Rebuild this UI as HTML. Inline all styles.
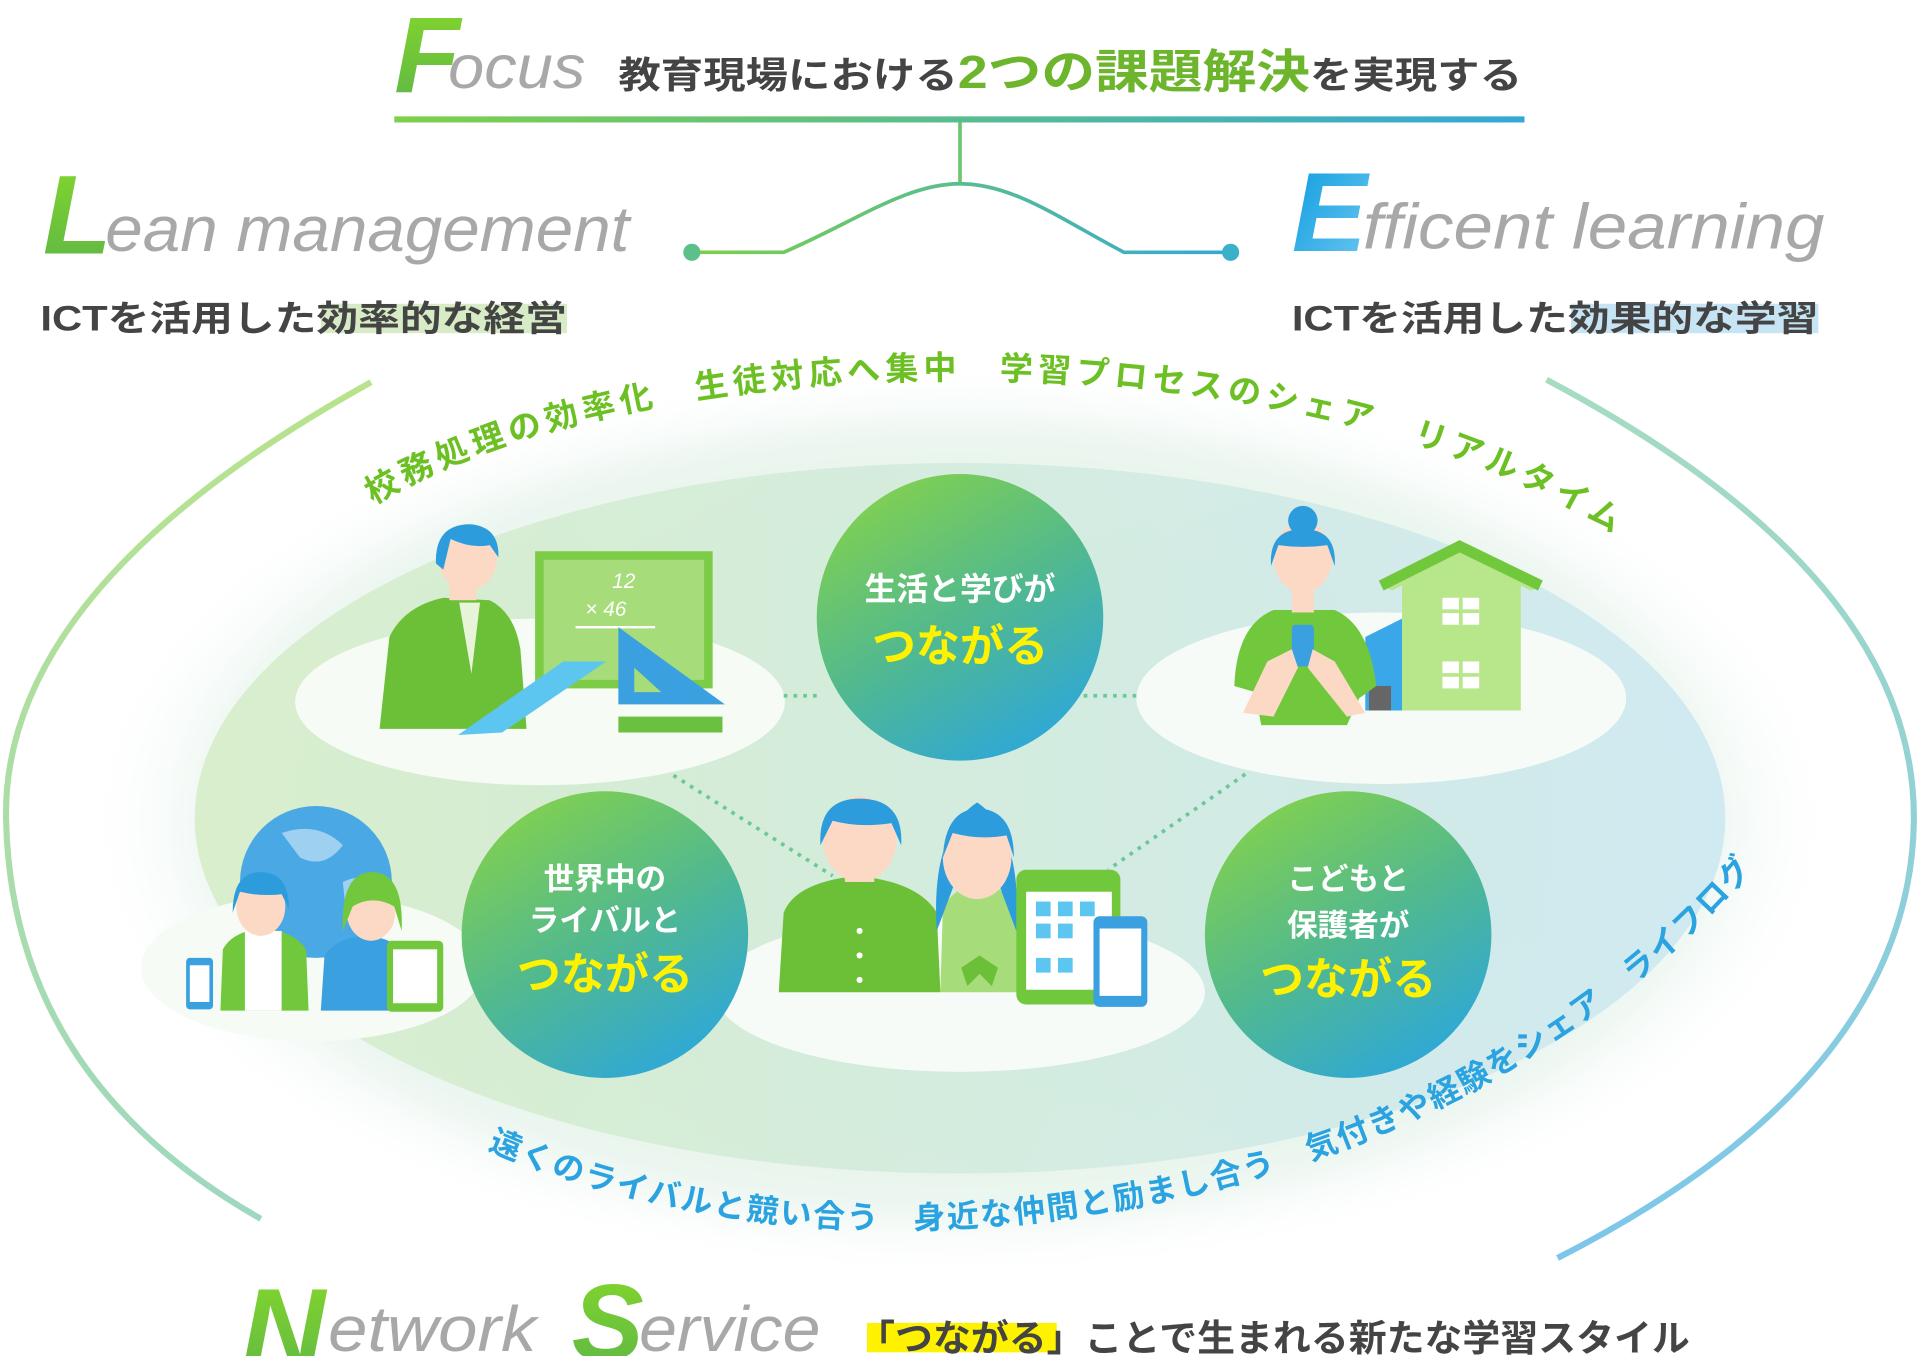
<!DOCTYPE html>
<html><head><meta charset="utf-8"><style>
html,body{margin:0;padding:0;background:#fff;}
svg{display:block;}
text{font-family:"Liberation Sans","Noto Sans CJK JP",sans-serif;}
</style></head><body>
<svg width="1920" height="1356" viewBox="0 0 1568 1107" preserveAspectRatio="none" xmlns="http://www.w3.org/2000/svg">
<defs>
<linearGradient id="lg" x1="0" x2="1"><stop offset="0" stop-color="#7ed04a"/><stop offset="1" stop-color="#34a8d8"/></linearGradient>
<linearGradient id="cg" x1="0.2" y1="0" x2="0.8" y2="1"><stop offset="0" stop-color="#84d24c"/><stop offset="0.5" stop-color="#52b98e"/><stop offset="1" stop-color="#2ba6df"/></linearGradient>
<linearGradient id="gL" x1="0" y1="0" x2="0" y2="1"><stop offset="0" stop-color="#86d82a"/><stop offset="1" stop-color="#5cb548"/></linearGradient>
<linearGradient id="gE" x1="0" y1="0" x2="1" y2="1"><stop offset="0" stop-color="#0a9be0"/><stop offset="1" stop-color="#6fc8f0"/></linearGradient>
<radialGradient id="outer" cx="0.5" cy="0.5" r="0.5"><stop offset="0.6" stop-color="#dcefe0"/><stop offset="0.85" stop-color="#eef7f2"/><stop offset="1" stop-color="#fff" stop-opacity="0"/></radialGradient>
<linearGradient id="inner" x1="0" x2="1"><stop offset="0" stop-color="#d6edc8"/><stop offset="0.6" stop-color="#d2ebe2"/><stop offset="1" stop-color="#cde8f2"/></linearGradient>
<linearGradient id="arcL" x1="0" y1="0" x2="0" y2="1"><stop offset="0" stop-color="#b8e38c"/><stop offset="1" stop-color="#9ed8c0"/></linearGradient>
<linearGradient id="arcR" x1="0" y1="0" x2="0" y2="1"><stop offset="0" stop-color="#a6dcc0"/><stop offset="1" stop-color="#7cc6ea"/></linearGradient>
<path id="topArc" d="M305 412 C540 270 1090 270 1335 448" fill="none"/>
<path id="botArc" d="M398 938 Q560 1008 760 1003 Q1000 995 1200 892 Q1365 800 1448 688" fill="none"/>
</defs>

<!-- header -->
<text x="322" y="75" font-size="88" font-style="italic" fill="url(#gL)" font-weight="bold">F</text>
<text x="366" y="72" font-size="50" font-style="italic" fill="#a8a8a8" textLength="112" lengthAdjust="spacingAndGlyphs">ocus</text>
<text x="505" y="72" font-size="30" fill="#444" font-weight="bold" textLength="738" lengthAdjust="spacingAndGlyphs">教育現場における<tspan fill="#6cb52c" font-size="38">2つの課題解決</tspan>を実現する</text>
<rect x="322" y="95" width="923" height="5" fill="url(#lg)"/>
<line x1="784" y1="100" x2="784" y2="150" stroke="#6cc66a" stroke-width="3"/>
<path d="M565 206 H640 C700 180 740 150 784 150 C828 150 868 180 918 206 H1005" fill="none" stroke="url(#lg)" stroke-width="3"/>
<circle cx="565" cy="206" r="7" fill="#5cc08a"/><circle cx="1005" cy="206" r="7" fill="#3cb0c8"/>

<text x="35" y="207" font-size="92" font-style="italic" font-weight="bold" fill="url(#gL)">L</text>
<text x="86" y="205" font-size="52" font-style="italic" fill="#a8a8a8" textLength="428" lengthAdjust="spacingAndGlyphs">ean management</text>
<rect x="262" y="248" width="201" height="24" fill="#d6ebc6"/>
<text x="33" y="270" font-size="29" fill="#444" font-weight="bold" textLength="430" lengthAdjust="spacingAndGlyphs">ICTを活用した効率的な経営</text>

<text x="1055" y="205" font-size="92" font-style="italic" font-weight="bold" fill="url(#gE)">E</text>
<text x="1113" y="203" font-size="52" font-style="italic" fill="#a8a8a8" textLength="377" lengthAdjust="spacingAndGlyphs">fficent learning</text>
<rect x="1283" y="248" width="202" height="24" fill="#c6e4f4"/>
<text x="1055" y="270" font-size="29" fill="#444" font-weight="bold" textLength="430" lengthAdjust="spacingAndGlyphs">ICTを活用した効果的な学習</text>

<!-- ellipses -->
<ellipse cx="784" cy="670" rx="720" ry="375" fill="url(#outer)"/>
<ellipse cx="784" cy="668" rx="625" ry="290" fill="url(#inner)" opacity="0.9"/>
<path d="M303 312 Q0 480 5 670 Q10 880 213 995" fill="none" stroke="url(#arcL)" stroke-width="5"/>
<path d="M1263 310 Q1565 470 1563 670 Q1560 880 1272 1027" fill="none" stroke="url(#arcR)" stroke-width="5"/>

<ellipse cx="441" cy="573" rx="200" ry="68" fill="#f7fbf6"/>
<ellipse cx="1128" cy="570" rx="200" ry="70" fill="#f7fbf8"/>
<ellipse cx="255" cy="790" rx="140" ry="60" fill="#f7fbf6"/>
<ellipse cx="784" cy="810" rx="200" ry="65" fill="#f7fbf8"/>

<!-- dotted connectors -->
<g stroke="#6cc89a" stroke-width="3" stroke-dasharray="3 5" fill="none">
<line x1="640" y1="568" x2="668" y2="568"/><line x1="885" y1="568" x2="928" y2="568"/>
<line x1="550" y1="633" x2="680" y2="715"/><line x1="1017" y1="632" x2="905" y2="710"/>
</g>

<!-- teacher -->
<rect x="437" y="450" width="145" height="112" fill="#7ccc48"/><rect x="444" y="457" width="131" height="98" fill="#a6dd7a"/>
<text x="500" y="480" font-size="17" font-style="italic" fill="#fff">12</text><text x="478" y="503" font-size="17" font-style="italic" fill="#fff">× 46</text>
<line x1="470" y1="512" x2="535" y2="512" stroke="#fff" stroke-width="2"/>
<path d="M505 512 L505 575 L592 575 Z" fill="#3aa0e0"/><path d="M518 545 L518 565 L540 565 Z" fill="#a6dd7a"/>
<rect x="505" y="585" width="85" height="13" fill="#6cc040"/>
<path d="M310 595 L318 520 Q330 495 362 488 L400 490 Q420 500 425 530 L430 595 Z" fill="#6cc038"/>
<path d="M375 492 L385 550 L392 492 Z" fill="#e8f4d8"/>
<rect x="367" y="460" width="22" height="30" fill="#fcd9c5"/>
<ellipse cx="382" cy="455" rx="24" ry="27" fill="#fcd9c5"/>
<path d="M356 460 Q355 428 384 428 Q408 430 407 455 L400 445 Q385 448 368 440 L362 465 Z" fill="#2d9cdc"/>
<path d="M374 600 L410 598 L495 540 L460 540 Z" fill="#5cc6f0"/>

<!-- mother + house -->
<path d="M1132 480 L1192 448 L1256 480 L1250 482 L1242 478 L1242 580 L1145 580 L1145 478 L1137 482 Z" fill="#b8e68a"/>
<path d="M1128 478 L1192 446 L1258 478" fill="none" stroke="#72c83c" stroke-width="9"/>
<path d="M1115 520 L1145 505 L1145 580 L1115 580 Z" fill="#3aa8e8"/>
<rect x="1118" y="560" width="18" height="20" fill="#666"/>
<g fill="#fff"><rect x="1178" y="488" width="30" height="22"/><rect x="1178" y="540" width="30" height="22"/></g>
<g stroke="#b8e68a" stroke-width="3"><line x1="1193" y1="488" x2="1193" y2="510"/><line x1="1178" y1="499" x2="1208" y2="499"/><line x1="1193" y1="540" x2="1193" y2="562"/><line x1="1178" y1="551" x2="1208" y2="551"/></g>
<path d="M1008 560 Q1010 510 1040 498 L1090 498 Q1118 510 1124 560 L1110 570 L1100 592 L1030 592 L1025 565 Z" fill="#72c83c"/>
<rect x="1055" y="470" width="18" height="30" fill="#fcd9c5"/>
<ellipse cx="1064" cy="455" rx="24" ry="29" fill="#fcd9c5"/>
<circle cx="1064" cy="425" r="12" fill="#2d9cdc"/>
<path d="M1038 462 Q1036 432 1064 432 Q1092 432 1090 462 L1084 445 Q1064 448 1044 445 Z" fill="#2d9cdc"/>
<rect x="1055" y="510" width="18" height="34" rx="3" fill="#3aa0e0"/>
<path d="M1015 582 L1035 540 L1055 530 L1060 545 L1040 585 Z" fill="#fcd9c5"/>
<path d="M1115 582 L1090 540 L1072 530 L1068 545 L1100 585 Z" fill="#fcd9c5"/>

<!-- globe kids -->
<circle cx="258" cy="720" r="62" fill="#4aa8e4"/>
<path d="M230 680 Q260 670 280 690 Q265 710 245 700 Z M280 720 Q300 710 312 730 Q295 750 282 740 Z" fill="#9ed0f2"/>
<path d="M180 825 L182 775 Q190 760 215 758 Q240 760 250 775 L252 825 Z" fill="#72c83c"/>
<rect x="200" y="760" width="30" height="65" fill="#fff"/>
<ellipse cx="213" cy="740" rx="20" ry="24" fill="#fcd9c5"/>
<path d="M190 745 Q190 712 213 712 Q236 712 236 742 L230 730 Q213 732 196 728 Z" fill="#2d9cdc"/>
<path d="M262 825 L265 780 Q275 765 300 764 Q325 766 330 782 L332 825 Z" fill="#3aa0e0"/>
<ellipse cx="303" cy="744" rx="20" ry="24" fill="#fcd9c5"/>
<path d="M280 760 Q278 712 304 712 Q330 712 328 760 L322 740 Q304 730 288 740 Z" fill="#72c83c"/>
<rect x="152" y="782" width="22" height="42" rx="3" fill="#3aa0e0"/><rect x="155" y="788" width="16" height="30" fill="#fff"/>
<rect x="316" y="768" width="46" height="58" rx="4" fill="#72c83c"/><rect x="321" y="775" width="36" height="44" fill="#fff"/>

<!-- students -->
<path d="M636 810 L640 745 Q650 720 700 715 Q750 720 765 745 L768 810 Z" fill="#6cc038"/>
<g fill="#fff"><circle cx="702" cy="760" r="2.5"/><circle cx="702" cy="780" r="2.5"/><circle cx="702" cy="800" r="2.5"/></g>
<rect x="690" y="690" width="24" height="30" fill="#fcd9c5"/>
<ellipse cx="702" cy="685" rx="30" ry="35" fill="#fcd9c5"/>
<path d="M670 690 Q668 652 702 652 Q738 652 736 690 L728 672 Q702 676 680 670 Z" fill="#2d9cdc"/>
<path d="M768 810 L770 740 Q785 720 800 722 Q818 722 830 740 L832 810 Z" fill="#a6dd7a"/>
<path d="M785 790 L800 780 L815 790 L810 805 L800 795 L790 805 Z" fill="#6cc038"/>
<path d="M765 760 Q760 680 798 655 Q835 680 830 760 L815 720 L780 720 Z" fill="#2d9cdc"/>
<ellipse cx="798" cy="700" rx="28" ry="34" fill="#fcd9c5"/>
<path d="M770 700 Q772 660 800 660 Q828 662 828 700 L822 682 Q800 686 778 680 Z" fill="#2d9cdc"/>
<rect x="830" y="710" width="85" height="110" rx="8" fill="#72c83c"/><rect x="838" y="728" width="70" height="80" fill="#fff"/>
<g fill="#5cc6f0"><rect x="846" y="736" width="12" height="12"/><rect x="864" y="736" width="12" height="12"/><rect x="882" y="736" width="12" height="12"/><rect x="846" y="754" width="12" height="12"/><rect x="864" y="754" width="12" height="12"/><rect x="846" y="782" width="12" height="12"/><rect x="864" y="782" width="12" height="12"/></g>
<rect x="893" y="748" width="44" height="74" rx="5" fill="#3aa0e0"/><rect x="898" y="758" width="34" height="55" fill="#fff"/>

<!-- circles -->
<circle cx="784" cy="504" r="117" fill="url(#cg)"/>
<circle cx="494" cy="763" r="117" fill="url(#cg)"/>
<circle cx="1101" cy="763" r="117" fill="url(#cg)"/>
<g text-anchor="middle" font-weight="bold">
<text x="784" y="490" font-size="26" fill="#fff">生活と学びが</text>
<text x="784" y="540" font-size="36" fill="#fff200">つながる</text>
<text x="494" y="726" font-size="25" fill="#fff">世界中の</text>
<text x="494" y="760" font-size="25" fill="#fff">ライバルと</text>
<text x="494" y="808" font-size="36" fill="#fff200">つながる</text>
<text x="1101" y="726" font-size="25" fill="#fff">こどもと</text>
<text x="1101" y="764" font-size="25" fill="#fff">保護者が</text>
<text x="1101" y="812" font-size="36" fill="#fff200">つながる</text>
</g>

<!-- curved labels -->
<text font-size="27" font-weight="bold" fill="#6cc024"><textPath href="#topArc" textLength="1050" lengthAdjust="spacing">校務処理の効率化　生徒対応へ集中　学習プロセスのシェア　リアルタイム</textPath></text>
<text font-size="26" font-weight="bold" fill="#2aa3e0"><textPath href="#botArc" textLength="1125" lengthAdjust="spacing">遠くのライバルと競い合う　身近な仲間と励まし合う　気付きや経験をシェア　ライフログ</textPath></text>

<!-- footer -->
<text x="197" y="1118" font-size="95" font-style="italic" font-weight="bold" fill="url(#gL)">N</text>
<text x="268" y="1103" font-size="52" font-style="italic" fill="#a8a8a8" textLength="170" lengthAdjust="spacingAndGlyphs">etwork</text>
<text x="467" y="1110" font-size="88" font-style="italic" font-weight="bold" fill="url(#gL)">S</text>
<text x="522" y="1103" font-size="52" font-style="italic" fill="#a8a8a8" textLength="148" lengthAdjust="spacingAndGlyphs">ervice</text>
<rect x="708" y="1080" width="155" height="24" fill="#fff200"/>
<text x="700" y="1103" font-size="30" font-weight="bold" fill="#444" textLength="680" lengthAdjust="spacingAndGlyphs">「つながる」ことで生まれる新たな学習スタイル</text>
</svg>
</body></html>
